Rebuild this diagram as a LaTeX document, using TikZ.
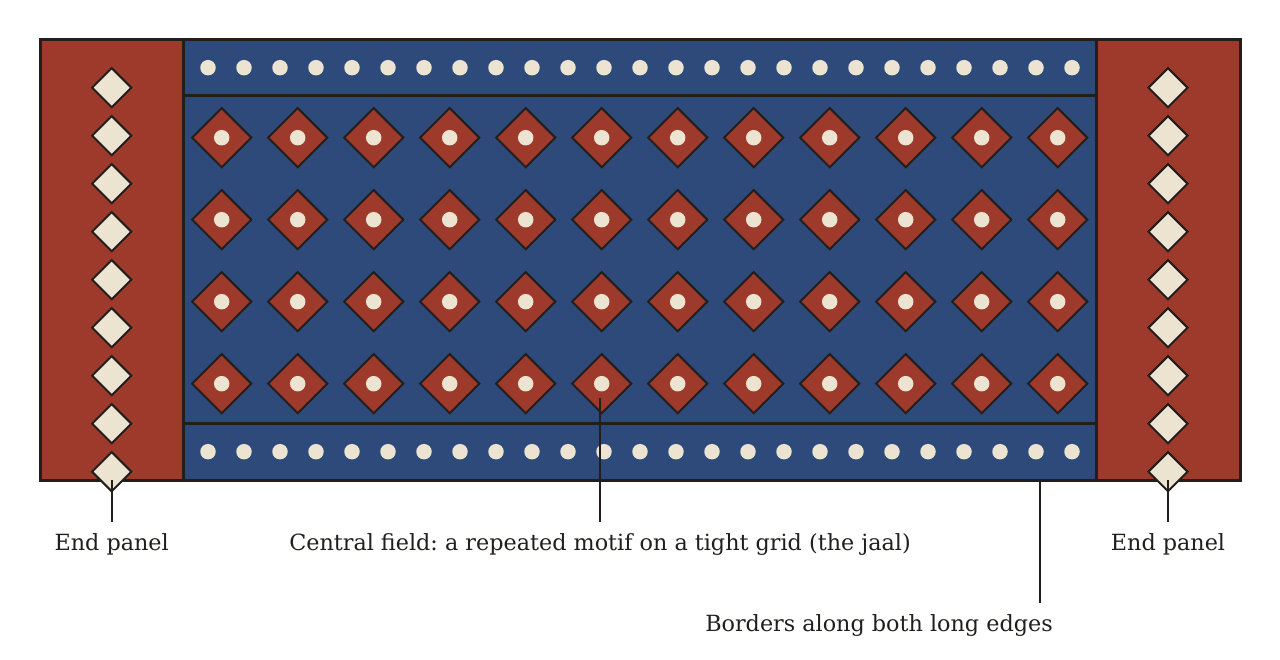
\documentclass[tikz,border=0pt]{standalone}
\usepackage{fontspec}
\setmainfont{DejaVu Serif}
\frenchspacing
\usetikzlibrary{shapes.geometric}
\definecolor{rugred}{RGB}{157,58,44}
\definecolor{rugblue}{RGB}{46,74,122}
\definecolor{cream}{RGB}{236,228,209}
\definecolor{ink}{RGB}{34,30,28}
\tikzset{
  panel/.style={fill=rugred, draw=ink, line width=3pt},
  band/.style={fill=rugblue, draw=ink, line width=3pt},
  motif/.style={diamond, aspect=1, inner sep=0pt, minimum width=60pt, minimum height=60pt, fill=rugred, draw=ink, line width=2pt},
  endmotif/.style={diamond, aspect=1, inner sep=0pt, minimum width=40pt, minimum height=40pt, fill=cream, draw=ink, line width=2pt},
  dot/.style={circle, inner sep=0pt, minimum size=15.5pt, fill=cream},
  pointer/.style={draw=ink, line width=1.8pt},
  lbl/.style={font=\fontsize{22.3}{26}\selectfont, text=ink, anchor=base, inner sep=0pt}
}
\begin{document}
\begin{tikzpicture}[x=1pt, y=-1pt]
\useasboundingbox (0,0) rectangle (1280,660);
% fields
\path[band] (183.5,40) rectangle (1096,480);
\path[band] (183.5,95.5) rectangle (1096,423.5);
\path[panel] (40,40) rectangle (183.5,480);
\path[panel] (1096,40) rectangle (1240,480);
% central motifs
\foreach \i in {0,...,11} {
  \foreach \j in {0,...,3} {
    \node[motif] (m-\i-\j) at (221.7+76*\i, 137.7+82*\j) {};
    \node[dot] (md-\i-\j) at (m-\i-\j.center) {};
  }
}
% border dots
\foreach \k in {0,...,24} {
  \node[dot] (bt-\k) at (208+36*\k, 67.7) {};
  \node[dot] (bb-\k) at (208+36*\k, 451.7) {};
}
% end panel motifs
\foreach \k in {0,...,8} {
  \node[endmotif] (el-\k) at (111.7, 87.7+48*\k) {};
  \node[endmotif] (er-\k) at (1168, 87.7+48*\k) {};
}
% labels
\node[lbl] (lendl) at (111.7,550) {End panel};
\node[lbl] (lcent) at (600,550) {Central field: a repeated motif on a tight grid (the jaal)};
\node[lbl] (lendr) at (1168,550) {End panel};
\node[lbl] (lbord) at (879,631) {Borders along both long edges};
% pointers
\coordinate (pl) at (111.7,480);
\coordinate (pc) at (600,398);
\coordinate (pr) at (1168,480);
\coordinate (pb) at (1040,480);
\draw[pointer] (pl) -- (111.7,521.5);
\draw[pointer] (pc) -- (600,521.5);
\draw[pointer] (pr) -- (1168,521.5);
\draw[pointer] (pb) -- (1040,603);
\end{tikzpicture}
\end{document}
